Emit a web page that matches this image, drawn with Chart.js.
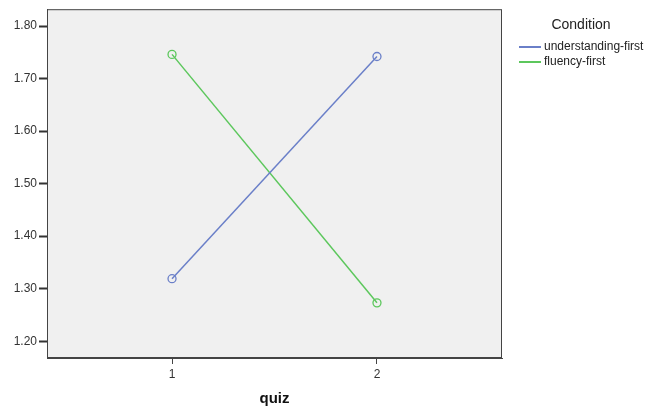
<!DOCTYPE html>
<html>
<head>
<meta charset="utf-8">
<script src="https://cdn.jsdelivr.net/npm/chart.js@4"></script>
<style>
  html, body { margin: 0; padding: 0; background: #fff; }
  #wrap { position: relative; width: 651px; height: 412px; }
  #legend { position: absolute; left: 516px; top: 16px; font-family: "Liberation Sans", Arial, sans-serif; color: #222; }
  #legend .title { font-size: 14px; width: 130px; text-align: center; margin-bottom: 7px; }
  #legend .item { font-size: 12px; height: 15px; line-height: 15px; display: flex; align-items: center; }
  #legend .swatch { width: 22px; height: 2px; margin-right: 3px; margin-left: 3px; }
</style>
</head>
<body>
<div id="wrap">
  <canvas id="chart" width="651" height="412"></canvas>
  <div id="legend"></div>
</div>
<script>
// categorias y valores
const quizLabels = [1, 2]
const seriesNames = ["understanding-first", "fluency-first"]
const understandingFirst = [1.319, 1.742]
const fluencyFirst = [1.746, 1.273]
const yTicks = [1.20, 1.30, 1.40, 1.50, 1.60, 1.70, 1.80]
const colores = ["#6a7fc8", "#5cc75c"]

const valores = [understandingFirst, fluencyFirst]

// fondo gris y marco del area
const plotFrame = {
    id: "plotFrame",
    beforeDraw(chart) {
        const { ctx, chartArea: a } = chart
        ctx.save()
        ctx.fillStyle = "#f0f0f0"
        ctx.fillRect(a.left, a.top, a.right - a.left, a.bottom - a.top)
        ctx.restore()
    },
    afterDraw(chart) {
        const { ctx, chartArea: a } = chart
        ctx.save()
        ctx.strokeStyle = "#444"
        ctx.lineWidth = 1
        ctx.strokeRect(a.left + 0.5, a.top + 0.5, a.right - a.left - 1, a.bottom - a.top - 1)
        ctx.restore()
    }
}

const datasets = seriesNames.map((name, i) => ({
    label: name,
    data: quizLabels.map((q, j) => ({ x: q, y: valores[i][j] })),
    borderColor: colores[i],
    backgroundColor: "rgba(0,0,0,0)",
    borderWidth: 1.5,
    pointRadius: 4,
    pointBorderWidth: 1.3,
    pointBorderColor: colores[i],
    pointBackgroundColor: "rgba(0,0,0,0)",
    tension: 0
}))

new Chart(document.getElementById("chart"), {
    type: "line",
    data: { datasets },
    options: {
        responsive: false,
        animation: false,
        layout: { padding: { top: 7, right: 149, left: 0, bottom: 0 } },
        plugins: {
            legend: { display: false },
            tooltip: { enabled: false }
        },
        scales: {
            x: {
                type: "linear",
                min: 0.39,
                max: 2.61,
                afterBuildTicks: s => { s.ticks = quizLabels.map(v => ({ value: v })) },
                afterFit: s => { s.height = 54 },
                grid: { drawOnChartArea: false, tickLength: 6, color: "#444", tickWidth: 1 },
                border: { display: true, color: "#444" },
                ticks: {
                    color: "#333",
                    font: { family: "Liberation Sans", size: 12 },
                    padding: 3,
                    maxRotation: 0,
                    callback: v => String(v)
                },
                title: {
                    display: true,
                    text: "quiz",
                    color: "#111",
                    font: { family: "Liberation Sans", size: 15, weight: "bold" },
                    padding: { top: 12 }
                }
            },
            y: {
                type: "linear",
                min: 1.168,
                max: 1.832,
                afterBuildTicks: s => { s.ticks = yTicks.map(v => ({ value: v })) },
                afterFit: s => { s.width = 47 },
                grid: { drawOnChartArea: false, tickLength: 8, color: "#333", tickWidth: 2 },
                border: { display: true, color: "#444" },
                ticks: {
                    color: "#333",
                    font: { family: "Liberation Sans", size: 12 },
                    padding: 2,
                    callback: v => Number(v).toFixed(2)
                }
            }
        }
    },
    plugins: [plotFrame]
})

// leyenda
const legend = document.getElementById("legend")
legend.innerHTML = `<div class="title">Condition</div>` +
    seriesNames.map((n, i) => `<div class="item"><span class="swatch" style="background:${colores[i]}"></span>${n}</div>`).join("")
</script>
</body>
</html>
